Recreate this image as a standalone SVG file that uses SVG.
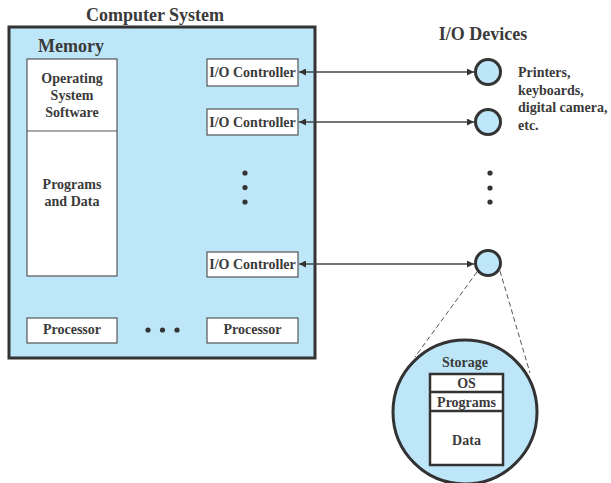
<svg xmlns="http://www.w3.org/2000/svg" width="611" height="483" viewBox="0 0 611 483">
  <style>
    text { font-family: "Liberation Serif", "Times New Roman", serif; font-weight: bold; fill: #3a3a3a; }
    .t14 { font-size: 14px; }
    .t18 { font-size: 18px; }
    .mid { text-anchor: middle; }
    .box { fill: #ffffff; stroke: #555555; stroke-width: 1.2; }
    .blue { fill: #bee6f9; }
    .dev { fill: #bee6f9; stroke: #333333; stroke-width: 3; }
    .dot { fill: #333333; }
    .link { stroke: #444444; stroke-width: 1.3; fill: none; }
    .dash { stroke: #555555; stroke-width: 1; stroke-dasharray: 5 3; fill: none; }
    .thick { fill: #ffffff; stroke: #333333; stroke-width: 2.5; }
  </style>
  <defs>
    <marker id="arrow" viewBox="0 0 10 10" refX="10" refY="5" markerWidth="7" markerHeight="7" markerUnits="userSpaceOnUse" orient="auto-start-reverse">
      <path d="M0,0 L10,5 L0,10 Z" fill="#333333"/>
    </marker>
  </defs>

  <!-- computer system enclosure -->
  <g id="computer-system">
    <text class="t18 mid" x="155" y="21">Computer System</text>
    <rect x="9" y="27" width="306" height="331" fill="#bee6f9" stroke="#333333" stroke-width="3"/>
    <text class="t18" x="38" y="52">Memory</text>
  </g>

  <!-- main memory -->
  <g id="memory">
    <rect class="box" x="27" y="59" width="90" height="217"/>
    <line x1="27" y1="131" x2="117" y2="131" stroke="#555555" stroke-width="1.2"/>
    <text class="t14 mid" x="72" y="83">Operating</text>
    <text class="t14 mid" x="72" y="100">System</text>
    <text class="t14 mid" x="72" y="117">Software</text>
    <text class="t14 mid" x="72" y="189">Programs</text>
    <text class="t14 mid" x="72" y="206">and Data</text>
  </g>

  <!-- I/O controllers -->
  <g id="io-controller-1">
    <rect class="box" x="207" y="59" width="91" height="27"/>
    <text class="t14 mid" x="252.5" y="77">I/O Controller</text>
  </g>
  <g id="io-controller-2">
    <rect class="box" x="207" y="109" width="91" height="26"/>
    <text class="t14 mid" x="252.5" y="127">I/O Controller</text>
  </g>
  <g id="controller-ellipsis">
    <circle class="dot" cx="245" cy="173" r="2.6"/>
    <circle class="dot" cx="245" cy="187.5" r="2.6"/>
    <circle class="dot" cx="245" cy="202" r="2.6"/>
  </g>
  <g id="io-controller-n">
    <rect class="box" x="207" y="252" width="91" height="25"/>
    <text class="t14 mid" x="252.5" y="269">I/O Controller</text>
  </g>

  <!-- processors -->
  <g id="processor-1">
    <rect class="box" x="27" y="318" width="90" height="25"/>
    <text class="t14 mid" x="72" y="334">Processor</text>
  </g>
  <g id="processor-ellipsis">
    <circle class="dot" cx="148" cy="330" r="2.6"/>
    <circle class="dot" cx="162.5" cy="330" r="2.6"/>
    <circle class="dot" cx="177" cy="330" r="2.6"/>
  </g>
  <g id="processor-n">
    <rect class="box" x="207" y="318" width="91" height="25"/>
    <text class="t14 mid" x="252.5" y="334">Processor</text>
  </g>

  <!-- I/O devices -->
  <g id="io-devices-title">
    <text class="t18 mid" x="483" y="40">I/O Devices</text>
  </g>
  <g id="device-1">
    <circle class="dev" cx="488" cy="72" r="12.5"/>
  </g>
  <g id="device-2">
    <circle class="dev" cx="488" cy="122" r="12.5"/>
  </g>
  <g id="device-label">
    <text class="t14" x="518" y="77">Printers,</text>
    <text class="t14" x="518" y="95">keyboards,</text>
    <text class="t14" x="518" y="112">digital camera,</text>
    <text class="t14" x="518" y="130">etc.</text>
  </g>
  <g id="device-ellipsis">
    <circle class="dot" cx="490" cy="173" r="2.6"/>
    <circle class="dot" cx="490" cy="188" r="2.6"/>
    <circle class="dot" cx="490" cy="202" r="2.6"/>
  </g>
  <g id="device-n">
    <circle class="dev" cx="488" cy="263" r="12.5"/>
  </g>

  <!-- storage detail -->
  <g id="storage">
    <circle class="dev" cx="465" cy="412" r="72"/>
    <text class="t14 mid" x="465" y="367">Storage</text>
    <rect class="thick" x="430" y="374" width="73" height="91"/>
    <line x1="430" y1="392" x2="503" y2="392" stroke="#333333" stroke-width="2.5"/>
    <line x1="430" y1="411" x2="503" y2="411" stroke="#333333" stroke-width="2.5"/>
    <text class="t14 mid" x="466.5" y="388">OS</text>
    <text class="t14 mid" x="466.5" y="407">Programs</text>
    <text class="t14 mid" x="466.5" y="445">Data</text>
  </g>

  <!-- connectors -->
  <g id="connectors">
    <line class="link" x1="299" y1="72" x2="474" y2="72" marker-start="url(#arrow)" marker-end="url(#arrow)"/>
    <line class="link" x1="299" y1="122" x2="474" y2="122" marker-start="url(#arrow)" marker-end="url(#arrow)"/>
    <line class="link" x1="299" y1="264" x2="474" y2="264" marker-start="url(#arrow)" marker-end="url(#arrow)"/>
    <line class="dash" x1="477" y1="272" x2="415" y2="357"/>
    <line class="dash" x1="500" y1="271" x2="530" y2="373"/>
  </g>
</svg>
